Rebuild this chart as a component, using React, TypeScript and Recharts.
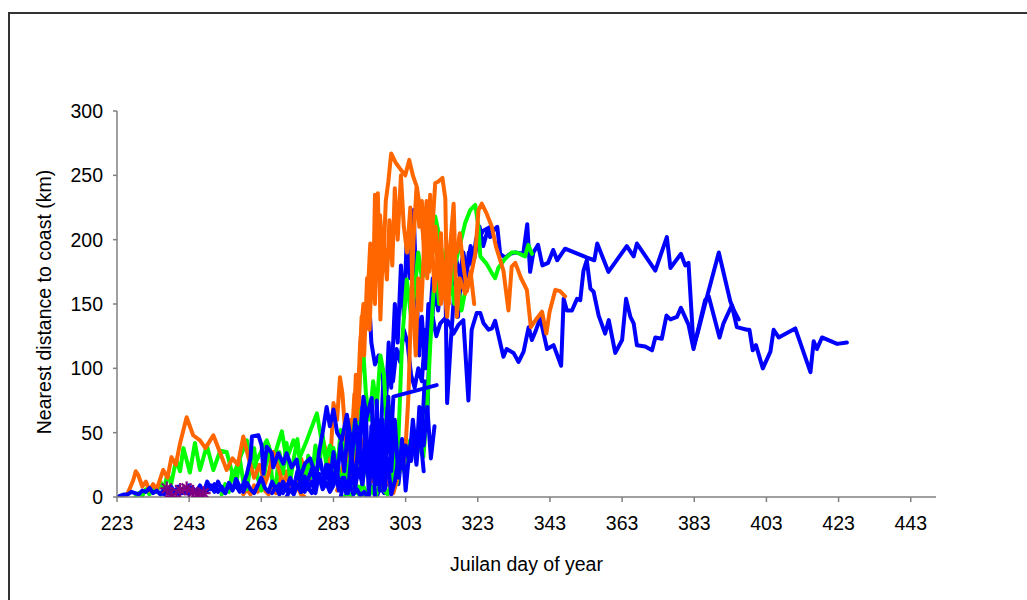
import React from 'react';
import { ComposedChart, Line, XAxis, YAxis } from 'recharts';

type Pt = [number, number];

// Axis ticks
const dayTicks = [223, 243, 263, 283, 303, 323, 343, 363, 383, 403, 423, 443];
const kmTicks = [0, 50, 100, 150, 200, 250, 300];

// Blue tracks
const blueLongUpper: Pt[] = [
  [292, 0], [293, 5], [293.8, 30], [294.5, 10], [295.3, 60], [296, 40], [296.8, 90], [297.5, 70],
  [298.3, 120], [299, 85], [300, 150], [300.8, 120], [301.7, 180], [302.5, 140], [303.3, 200],
  [304.2, 170], [305.2, 223], [306, 160], [306.8, 110], [307.5, 140], [308.5, 100], [309.3, 150],
  [310.2, 130], [311, 165], [312, 145], [313, 170], [314, 160], [315, 180], [316, 165], [317, 185],
  [318, 172], [319, 190], [320, 175], [321, 195], [322, 185], [323, 200], [324.5, 207], [325.9, 209],
  [326.4, 202], [327.3, 207], [328.4, 210], [329.2, 189], [330.6, 186], [332, 189], [333.4, 190],
  [335.6, 189], [336.7, 212], [337.5, 175], [338.4, 190], [339.7, 196], [340.9, 180], [342.5, 182],
  [343.9, 192], [345, 184], [347.2, 193], [353.3, 186], [355.3, 184], [356.1, 197], [359.2, 175],
  [364.3, 195], [366.2, 187], [367.1, 197], [372.2, 176], [375.4, 202], [376.4, 178], [379.3, 189],
  [380.5, 180], [381.4, 182], [382.8, 117], [384, 128], [386, 150], [389.8, 190], [393, 152],
  [394, 145], [395.3, 138],
];

const blueLongLower: Pt[] = [
  [292.9, 153], [293.5, 120], [294.5, 103], [295.5, 110], [296.5, 95], [297.5, 80], [298.5, 100],
  [299.5, 90], [300.5, 115], [301.5, 105], [302.5, 130], [303.5, 120], [304.5, 95], [305.5, 85],
  [306.5, 100], [307.5, 90], [308.5, 130], [309.5, 120], [310.5, 140], [311.5, 125], [312.6, 135],
  [314, 139], [314.9, 136], [316.3, 127], [317.7, 134], [319, 137.5], [320.4, 75], [321.3, 130],
  [322.7, 143], [323.7, 143], [324.6, 135], [326, 130], [326.9, 131], [327.8, 137], [330.1, 109],
  [331, 115], [332.9, 112], [334.3, 105], [335.7, 113], [337.1, 132], [338, 122], [338.9, 128],
  [340.3, 139], [342.2, 115], [344, 118], [346.1, 102], [346.8, 154], [347.7, 145], [349.1, 145],
  [350.5, 154], [351.4, 153], [352.3, 176], [353.2, 184], [354.2, 162], [355.1, 159.5], [356.5, 141],
  [358.3, 127], [359.3, 137.5], [361.1, 112], [363, 122], [364.1, 154], [365.3, 140], [366.2, 135],
  [367.1, 118], [369.4, 117], [371.3, 114], [372.2, 124], [374, 123], [375.3, 141], [376.4, 138],
  [378.2, 140], [379.3, 147], [381.4, 134], [382.8, 115], [386, 153], [387, 156], [390, 124],
  [391.1, 135], [393.4, 149], [394.8, 132], [397.6, 130], [398.3, 130], [399.2, 114], [400.1, 118],
  [402, 100], [404.1, 113], [405, 130], [406.4, 124], [411, 131], [415.2, 97], [416.1, 121],
  [417, 115], [418.4, 124], [422.6, 119], [425.3, 120],
];

const blueRising: Pt[] = [
  [295, 0], [296, 8], [297, 3], [298, 15], [299, 5], [300, 25], [301, 10], [302, 35], [302.8, 29],
  [303.6, 33], [304.5, 28], [305.3, 45], [306, 30], [306.8, 70], [307.5, 50], [308.3, 90], [309, 60],
  [309.8, 140], [310.5, 170], [311.3, 150], [312.2, 175], [313, 160], [314, 171], [314.5, 73],
  [315.5, 120], [316.5, 160], [317.5, 140], [318.5, 175], [319.5, 165], [320.5, 190], [321.5, 180],
  [322.5, 200], [323.5, 210], [324.5, 195], [325.5, 205], [326.4, 210],
];

const blueCoastA: Pt[] = [
  [223, 0], [224, 1], [225, 2], [226, 2], [227, 4], [228, 3], [229, 2], [230, 5], [231, 4], [232, 7],
  [233, 3], [234, 5], [235, 2], [236, 6], [237, 3], [238, 8], [239, 4], [240, 2], [241, 6], [242, 3],
  [243, 9], [244, 5], [245, 3], [246, 7], [247, 2], [248, 5], [249, 9], [250, 4], [251, 12], [252, 6],
  [253, 3], [254, 10], [255, 5], [256, 14], [257, 8], [258, 4], [259, 11], [260, 6], [261, 3],
  [262, 9], [263, 15], [264, 7], [265, 4], [266, 12], [267, 6], [268, 10], [269, 3], [270, 8],
  [271, 14], [272, 5], [273, 9], [274, 4], [275, 12], [276, 7], [277, 3], [278, 10], [279, 16],
  [280, 6], [281, 11], [282, 4], [283, 9], [284, 18], [285, 7], [286, 12], [287, 3], [288, 15],
  [289, 8], [290, 22], [291, 10], [292, 30], [293, 12], [294, 40], [295, 18], [296, 55], [297, 30],
  [298, 70], [299, 45], [299.6, 78], [311.6, 87],
];

const blueCoastB: Pt[] = [
  [236, 2], [237, 5], [238, 1], [239, 4], [240, 8], [241, 3], [242, 6], [243, 2], [244, 7], [245, 4],
  [246, 9], [247, 3], [248, 12], [249, 6], [250, 10], [251, 4], [252, 8], [253, 3], [254, 11],
  [255, 6], [256, 9], [257, 4], [258, 10], [259, 18], [260, 30], [260.4, 47], [262.2, 48],
  [263.1, 40], [263.6, 18], [264.5, 39], [265.9, 34], [266.3, 23], [267.7, 34], [269.1, 26],
  [270, 34], [271.4, 23], [272.8, 29], [273.7, 14], [275.1, 26], [276.5, 30], [277.9, 18],
  [279.3, 29], [280.5, 12], [281.5, 25], [282.5, 8], [283.5, 20], [284.5, 5], [285.5, 15],
  [286.5, 3], [287.5, 10], [288.5, 2], [289.5, 6], [290.5, 1], [291.5, 4], [292.5, 0],
];

const blueCoastC: Pt[] = [
  [266, 3], [267, 8], [268, 2], [269, 12], [270, 5], [271, 15], [272, 7], [273, 20], [274, 9],
  [275, 4], [276, 14], [277, 22], [278, 10], [279, 35], [280, 50], [281.1, 70], [282, 55], [283, 68],
  [284, 50], [285.3, 44], [286.7, 64], [287.5, 50], [288.5, 44], [289.5, 55], [290.3, 40],
  [291.3, 78], [292.2, 62], [293.6, 77], [294.1, 29], [294.5, 0],
];

const blueCoastD: Pt[] = [
  [270, 0], [271, 6], [272, 2], [273, 10], [274, 4], [275, 16], [276, 6], [277, 12], [278, 3],
  [279, 18], [280, 8], [281, 25], [282, 10], [283, 35], [284, 15], [285, 42], [286, 20], [287, 55],
  [288, 25], [289, 60], [290, 30], [291, 70], [292, 40], [293, 20], [294, 60], [295, 10], [296, 45],
  [297, 5], [298, 30], [299, 2], [300, 12], [301, 30], [302, 22], [303, 40], [304, 28], [305, 60],
  [306, 35], [307, 50], [308, 20],
];

const blueCoastE: Pt[] = [
  [285, 0], [286, 15], [287, 3], [288, 35], [289, 5], [290, 50], [291, 10], [292, 65], [292.8, 0],
  [293.5, 55], [294.3, 15], [295, 75], [295.8, 5], [296.6, 60], [297.4, 10], [298.2, 78], [299, 20],
  [300, 60], [301, 15], [302, 45], [303, 5], [304, 35], [305, 50], [306, 25], [307, 60], [308, 40],
  [309, 70], [310, 30], [311, 55],
];

// Green tracks
const greenEarly: Pt[] = [
  [228, 0], [229, 3], [230, 1], [231, 6], [232, 2], [233, 8], [234, 4], [235, 12], [236, 6],
  [237, 18], [238, 10], [239.4, 29], [240.5, 20], [241.4, 38], [243.2, 19], [244.6, 42], [246, 21],
  [247.9, 40], [249.7, 21], [251.6, 36], [253.4, 35], [255.2, 16], [257, 30], [259, 44], [260.3, 21],
  [262, 30], [264.5, 44], [266.3, 29], [268.7, 51], [270, 29], [271.9, 44], [273.7, 31], [275.6, 44],
  [278.4, 65], [279.7, 44], [281, 30], [282, 40], [283, 20], [284, 30], [285, 10], [286, 20],
  [287, 5], [288, 12], [289, 3], [290, 8], [291, 0],
];

const greenMid: Pt[] = [
  [252, 2], [253, 10], [254, 4], [255, 20], [256, 8], [257, 30], [258, 12], [259, 6], [260, 25],
  [261, 38], [262, 15], [263, 5], [264, 20], [265, 40], [266, 14], [267, 8], [268, 35], [269, 18],
  [270, 42], [271, 12], [272, 30], [273, 45], [274, 20], [275, 8], [276, 32], [277, 15], [278, 40],
  [279, 22], [280, 48], [281, 25], [282, 10], [283, 38], [284, 20], [285, 52], [286, 30], [287, 15],
  [288, 40], [289, 60], [290, 35], [291, 12], [292, 28], [293, 8], [294, 3], [295, 0],
];

const greenLate: Pt[] = [
  [286, 0], [287, 3], [288, 1], [289, 6], [290, 2], [291, 10], [292, 4], [293, 2], [294, 8], [295, 3],
  [296, 12], [297, 5], [298, 2], [298.7, 8], [299.5, 20], [300.5, 10], [301.5, 25], [302.5, 20],
  [303.3, 29], [304.2, 44], [306.1, 44], [307.9, 31], [308.9, 65], [309.8, 117], [310.7, 158],
  [311.5, 175], [312.3, 150], [313, 168], [314, 162], [315.3, 161], [316.3, 176], [317.7, 192],
  [319.5, 213], [320.9, 223], [322.3, 227], [323.2, 210], [323.7, 187], [325.5, 181], [326.9, 174],
  [327.8, 170], [328.7, 178], [330.5, 185], [332.4, 190], [333.8, 190], [336.1, 187], [337, 196],
  [338, 189],
];

const greenOffshore: Pt[] = [
  [288, 10], [289, 25], [290.4, 96], [291.3, 112], [292, 80], [293, 60], [294, 90], [295, 70],
  [296, 110], [297, 95], [298, 40], [299, 70], [300, 20], [301, 45], [302, 120], [303.3, 169],
  [304.5, 140], [305.5, 160], [306.5, 190], [307.5, 170], [308.9, 179], [309.8, 200], [310.5, 190],
  [311.2, 218], [312.5, 200], [313.5, 180], [314.5, 195], [315.5, 170], [316.5, 150], [317.5, 165],
  [318.5, 145], [319.5, 160],
];

// Orange tracks
const orangeEarly: Pt[] = [
  [225, 0], [226, 3], [227.5, 13], [228.2, 20], [228.9, 17], [230, 8], [231, 12], [232, 5], [233, 10],
  [234, 6], [235.8, 21], [237, 15], [238.1, 31], [239.3, 25], [240.5, 42], [242.3, 62], [244.1, 48],
  [246, 44], [247.5, 38], [249.7, 48], [251.5, 35], [253.4, 21], [255, 30], [256.5, 25], [258, 47],
  [259.5, 30], [261, 15], [262.5, 25], [264, 10], [265, 18], [266.3, 35], [268, 20], [269, 10],
  [270, 5], [271, 12], [272, 3], [273, 8], [274, 2], [275, 0],
];

const orangeLong: Pt[] = [
  [258, 2], [259, 6], [260, 2], [261, 9], [262, 4], [263, 12], [264, 5], [265, 2], [266, 8], [267, 3],
  [268, 14], [269, 6], [270, 20], [271, 9], [272, 3], [273, 15], [274, 30], [275, 20], [276, 8],
  [277, 25], [278, 12], [279, 30], [280, 45], [281, 35], [282, 20], [283, 73], [284, 60], [284.8, 93],
  [285.5, 80], [286.5, 40], [287.5, 30], [288.5, 10], [289.5, 35], [290.5, 20], [291.5, 45],
  [292.5, 30], [293.5, 12], [294.5, 40], [295.5, 25], [296.5, 38], [297.5, 20], [298.5, 10],
  [299.6, 3], [300.5, 12], [301.5, 30], [302.3, 22], [303, 40], [303.8, 80], [304.5, 150],
  [305.2, 200], [306, 240], [306.8, 210], [307.5, 230], [308.2, 180], [309, 215], [310, 190],
  [311.2, 244], [312, 245], [313.2, 248], [314, 232], [314.4, 169], [315.5, 200], [316.3, 228],
  [317.2, 140], [318, 170], [319.5, 158], [320.9, 169], [322.3, 189], [323.2, 223], [324.1, 228],
  [325.5, 220], [326.9, 210], [328, 195], [330.1, 176], [331.5, 145], [332.4, 179], [333.4, 182],
  [335, 170], [336.6, 161], [337.7, 132], [339.4, 139], [340.8, 144], [342, 127], [342.9, 144],
  [344.5, 161], [345.8, 160], [347.2, 156],
];

const orangePeak: Pt[] = [
  [284, 5], [285, 15], [286, 30], [287, 50], [288, 40], [288.8, 80], [289.5, 60], [290.4, 120],
  [291.3, 150], [292, 130], [293.2, 197], [294, 160], [294.5, 235], [295.3, 200], [295.9, 219],
  [296.8, 180], [297.5, 230], [298.2, 245], [299, 267], [300.2, 260], [301.5, 255], [302.9, 250],
  [304, 262], [305, 250], [306.1, 241], [307, 224], [308, 200], [308.8, 230], [309.5, 175],
  [310.2, 205], [311, 160], [312, 190], [312.8, 150], [313.5, 170], [314.5, 140], [315.5, 175],
  [316.3, 200], [317.2, 190], [318, 205], [319, 180], [320, 160], [321, 175], [322, 150],
];

const orangeSecond: Pt[] = [
  [286, 8], [287, 25], [287.8, 60], [288.5, 45], [289.2, 95], [290, 70], [290.8, 140], [291.5, 110],
  [292.3, 170], [293, 130], [293.8, 190], [294.5, 150], [295.3, 236], [296, 138], [296.8, 200],
  [297.8, 169], [298.5, 215], [299.3, 180], [300, 240], [300.8, 200], [301.7, 250], [302.5, 210],
  [303.4, 190], [304.3, 225], [305, 150], [305.8, 110], [306.5, 170], [307.3, 145], [308.2, 200],
  [309, 170], [309.8, 235], [310.5, 190], [311.3, 210], [312, 170], [312.8, 205], [313.5, 160],
  [314.3, 185], [315, 150],
];

// Star markers along the coast
const starFixes: Pt[] = [
  [236.8, 6.7], [238.2, 0.5], [240.5, 5.4], [242.3, 6.7], [244.1, 4], [245.5, 0.5], [247, 3],
];

const BLUE = '#0000FF';
const GREEN = '#00FF00';
const ORANGE = '#FF6600';
const PURPLE = '#800080';

const rows = (pts: Pt[]) => pts.map(([day, km]) => ({ day, km }));

const tracks: { key: string; color: string; pts: Pt[] }[] = [
  { key: 'blueLongUpper', color: BLUE, pts: blueLongUpper },
  { key: 'blueLongLower', color: BLUE, pts: blueLongLower },
  { key: 'blueRising', color: BLUE, pts: blueRising },
  { key: 'greenLate', color: GREEN, pts: greenLate },
  { key: 'greenOffshore', color: GREEN, pts: greenOffshore },
  { key: 'orangePeak', color: ORANGE, pts: orangePeak },
  { key: 'orangeSecond', color: ORANGE, pts: orangeSecond },
  { key: 'orangeLong', color: ORANGE, pts: orangeLong },
  { key: 'greenEarly', color: GREEN, pts: greenEarly },
  { key: 'greenMid', color: GREEN, pts: greenMid },
  { key: 'orangeEarly', color: ORANGE, pts: orangeEarly },
  { key: 'blueCoastE', color: BLUE, pts: blueCoastE },
  { key: 'blueCoastC', color: BLUE, pts: blueCoastC },
  { key: 'blueCoastD', color: BLUE, pts: blueCoastD },
  { key: 'blueCoastB', color: BLUE, pts: blueCoastB },
  { key: 'blueCoastA', color: BLUE, pts: blueCoastA },
];

const Asterisk = (props: any) => {
  const { cx, cy } = props;
  if (cx == null || cy == null) return null;
  const r = 7;
  const d = r * 0.707;
  return (
    <g stroke={PURPLE} strokeWidth={2.2}>
      <line x1={cx} y1={cy - r} x2={cx} y2={cy + r} />
      <line x1={cx - r} y1={cy} x2={cx + r} y2={cy} />
      <line x1={cx - d} y1={cy - d} x2={cx + d} y2={cy + d} />
      <line x1={cx - d} y1={cy + d} x2={cx + d} y2={cy - d} />
    </g>
  );
};

const XTitle = (props: any) => {
  const { viewBox } = props;
  return (
    <text x={viewBox.x + viewBox.width / 2} y={viewBox.y + 74} textAnchor="middle" fontSize={19.5} fill="#000">
      Juilan day of year
    </text>
  );
};

const YTitle = (props: any) => {
  const { viewBox } = props;
  const cx = 41;
  const cy = viewBox.y + viewBox.height / 2 - 2;
  return (
    <text x={cx} y={cy} textAnchor="middle" fontSize={19.5} fill="#000" transform={`rotate(-90, ${cx}, ${cy})`}>
      Nearest distance to coast (km)
    </text>
  );
};

export default function App() {
  return (
    <div
      style={{
        position: 'absolute',
        left: 8,
        top: 12,
        width: 1019,
        height: 588,
        boxSizing: 'border-box',
        borderTop: '2px solid #333',
        borderLeft: '2px solid #333',
        background: '#fff',
        fontFamily: '"Liberation Sans", Arial, sans-serif',
        overflow: 'hidden',
      }}
    >
      <ComposedChart width={1017} height={586} margin={{ top: 97, right: 91, bottom: 33, left: 0 }}>
        <XAxis
          type="number"
          dataKey="day"
          domain={[223, 450]}
          ticks={dayTicks}
          allowDataOverflow
          stroke="#808080"
          strokeWidth={1.5}
          tickSize={5}
          tickMargin={14}
          height={70}
          tick={{ fill: '#000', fontSize: 19.5 }}
          label={<XTitle />}
        />
        <YAxis
          type="number"
          dataKey="km"
          domain={[0, 300]}
          ticks={kmTicks}
          allowDataOverflow
          stroke="#808080"
          strokeWidth={1.5}
          tickSize={4}
          tickMargin={10}
          width={107}
          tick={{ fill: '#000', fontSize: 19.5 }}
          label={<YTitle />}
        />
        {tracks.map((t) => (
          <Line
            key={t.key}
            data={rows(t.pts)}
            dataKey="km"
            type="linear"
            stroke={t.color}
            strokeWidth={4}
            strokeLinejoin="round"
            strokeLinecap="round"
            dot={false}
            activeDot={false}
            isAnimationActive={false}
          />
        ))}
        <Line
          data={rows(starFixes)}
          dataKey="km"
          stroke="none"
          dot={<Asterisk />}
          activeDot={false}
          isAnimationActive={false}
        />
      </ComposedChart>
    </div>
  );
}
